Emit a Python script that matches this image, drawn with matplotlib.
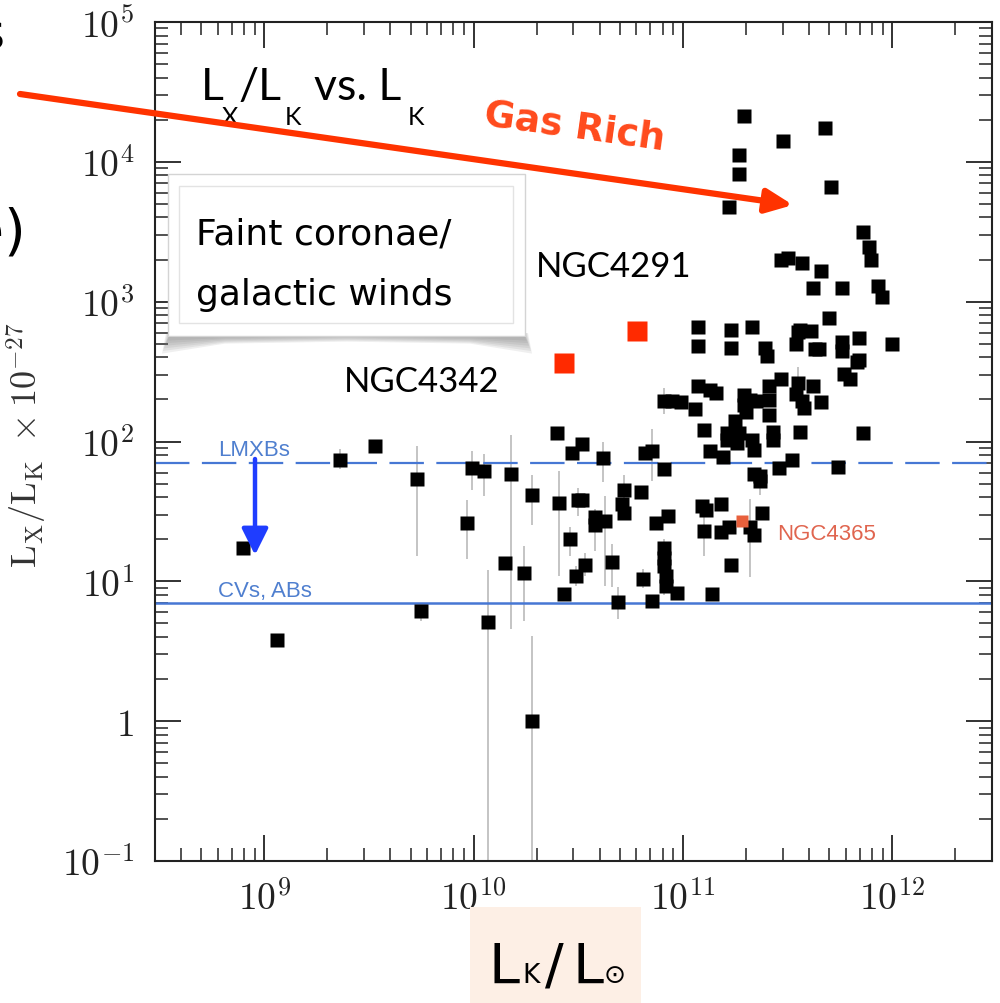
import numpy as np
import matplotlib
matplotlib.use("Agg")
import matplotlib.pyplot as plt
from matplotlib.patches import Rectangle, Polygon, FancyArrowPatch, ArrowStyle
from matplotlib.ticker import FuncFormatter, LogLocator, NullFormatter

plt.rcParams['mathtext.fontset'] = 'cm'

# galaxies: log10(L_K / L_sun) and log10(L_X / L_K x 1e-27)
log_lk = [8.90, 9.06, 9.36, 9.53, 9.73, 9.75, 9.97, 9.99, 10.05, 10.07,
          10.15, 10.18, 10.24, 10.28, 10.28, 10.40, 10.41, 10.43, 10.46, 10.47,
          10.49, 10.50, 10.52, 10.52, 10.53, 10.58, 10.58, 10.62, 10.63, 10.66,
          10.69, 10.71, 10.72, 10.72, 10.80, 10.81, 10.82, 10.85, 10.85, 10.87,
          10.91, 10.91, 10.91, 10.91, 10.92, 10.92, 10.93, 10.97, 10.91, 10.95,
          10.99, 11.06, 11.07, 11.07, 11.07, 11.13, 11.16, 11.10, 11.13, 11.19,
          11.09, 11.11, 11.18, 11.10, 11.14, 11.18, 11.22, 11.32, 11.34, 11.23,
          11.38, 11.23, 11.23, 11.33, 11.39, 11.40, 11.55, 11.54, 11.61, 11.63,
          11.65, 11.70, 11.76, 11.76, 11.84, 11.84, 11.83, 12.00, 11.77, 11.80,
          11.29, 11.32, 11.35, 11.29, 11.30, 11.25, 11.21, 11.21, 11.27, 11.26,
          11.33, 11.34, 11.41, 11.41, 11.41, 11.47, 11.43, 11.43, 11.56, 11.55,
          11.54, 11.57, 11.58, 11.62, 11.66, 11.86, 11.46, 11.52, 11.74, 11.34,
          11.37, 11.37, 11.29, 11.27, 11.27, 11.48, 11.68, 11.71, 11.22, 11.86,
          11.89, 11.90, 11.47, 11.50, 11.57, 11.66, 11.62, 11.76, 11.93, 11.95,
          11.56]
log_ratio = [1.24, 0.58, 1.87, 1.97, 1.73, 0.79, 1.42, 1.81, 1.79, 0.71,
             1.13, 1.77, 1.06, 0.00, 1.62, 2.06, 1.56, 0.91, 1.30, 1.92,
             1.04, 1.58, 1.58, 1.98, 1.12, 1.46, 1.40, 1.88, 1.43, 1.14,
             0.85, 1.55, 1.65, 1.49, 1.64, 1.02, 1.92, 1.93, 0.86, 1.42,
             1.80, 1.24, 1.17, 1.11, 1.04, 0.97, 1.47, 0.92, 2.29, 2.29,
             2.28, 2.23, 2.82, 2.68, 2.40, 2.37, 2.35, 2.08, 1.93, 1.89,
             1.54, 1.51, 1.55, 1.36, 0.91, 1.35, 1.39, 1.39, 1.33, 1.12,
             1.49, 2.80, 2.67, 2.82, 2.67, 2.61, 2.78, 2.70, 2.79, 2.66,
             2.66, 2.88, 2.71, 2.65, 2.74, 2.58, 2.57, 2.70, 2.48, 2.45,
             2.33, 2.30, 2.29, 2.26, 2.21, 2.15, 2.06, 2.01, 2.06, 1.99,
             2.01, 1.94, 2.40, 2.30, 2.19, 2.45, 2.07, 2.01, 2.07, 2.42,
             2.34, 2.29, 2.24, 2.40, 2.28, 2.06, 1.81, 1.87, 1.82, 1.77,
             1.75, 1.72, 4.33, 4.05, 3.91, 4.15, 4.24, 3.82, 3.68, 3.50,
             3.39, 3.30, 3.30, 3.31, 3.28, 3.22, 3.10, 3.10, 3.11, 3.03,
             2.80]

# error bars (log10): position, lower end, upper end
err_lk = [8.90, 9.36, 9.73, 9.75, 9.97, 9.99, 10.05, 10.07, 10.18, 10.24,
          10.28, 10.28, 10.41, 10.46, 10.49, 10.50, 10.53, 10.58, 10.62, 10.63,
          10.66, 10.69, 10.72, 10.81, 10.85, 10.91, 10.91, 11.10, 11.32, 11.55,
          11.37]
err_lo = [1.20, 1.80, 1.18, 0.72, 1.16, 1.65, 1.61, -2.0, 0.66, 0.72,
          -2.0, 1.40, 1.04, 1.18, 0.97, 1.47, 1.04, 1.22, 1.71, 0.97,
          0.96, 0.73, 1.55, 0.95, 1.72, 2.20, 0.90, 1.18, 1.03, 2.30,
          1.62]
err_hi = [1.27, 1.95, 1.97, 0.83, 1.58, 1.93, 1.91, 1.08, 2.05, 1.25,
          0.61, 1.76, 1.79, 1.39, 1.11, 1.67, 1.20, 1.52, 2.00, 1.61,
          1.27, 0.96, 1.76, 1.09, 2.09, 2.38, 1.30, 1.47, 1.59, 2.53,
          1.75]

# highlighted galaxies
red_names = ['NGC4342', 'NGC4291']
red_lk = [10.43, 10.78]
red_ratio = [2.56, 2.79]
n4365_lk = 11.28
n4365_ratio = 1.43

lmxb_level = 70
cv_level = 7

fig = plt.figure(figsize=(10, 10.04), dpi=100)
fig.patch.set_facecolor('white')
ax = fig.add_axes([0.155, 0.1414, 0.837, 0.8357])


def fx(x):
    return x / 1000.0


def fy(y):
    return 1 - y / 1004.0


ax.vlines(10 ** np.array(err_lk), 10 ** np.array(err_lo), 10 ** np.array(err_hi),
          color='#b4b4b4', lw=1.1, zorder=1)
ax.plot(10 ** np.array(log_lk), 10 ** np.array(log_ratio), 's', color='black',
        ms=9.5, mec='none', zorder=3)
ax.plot(10 ** np.array(red_lk), 10 ** np.array(red_ratio), 's', color='#ff2a00',
        ms=15, mec='none', zorder=4)
ax.plot(10 ** n4365_lk, 10 ** n4365_ratio, 's', color='#e8603c', ms=8,
        mec='none', zorder=4)

line_col = '#4677d4'
dash = ax.axhline(lmxb_level, color=line_col, lw=1.6, zorder=2)
dash.set_dashes((15.5, 5.6))
ax.axhline(cv_level, color=line_col, lw=1.8, zorder=2)

ax.set_xscale('log')
ax.set_yscale('log')
ax.set_xlim(3e8, 3e12)
ax.set_ylim(0.1, 1e5)


def fmt(v, pos):
    e = int(round(np.log10(v)))
    return '$1$' if e == 0 else r'$10^{%d}$' % e


for a in (ax.xaxis, ax.yaxis):
    a.set_major_locator(LogLocator(base=10, numticks=20))
    a.set_minor_locator(LogLocator(base=10, subs=np.arange(2, 10), numticks=20))
    a.set_major_formatter(FuncFormatter(fmt))
    a.set_minor_formatter(NullFormatter())

ax.tick_params(which='both', direction='in', top=True, right=True,
               colors='#222222', labelsize=27)
ax.tick_params(which='major', length=18.5, width=1.3)
ax.tick_params(which='minor', length=9.5, width=1.1)
ax.tick_params(axis='y', pad=15)
ax.tick_params(axis='x', pad=14)
for s in ax.spines.values():
    s.set_linewidth(1.5)
    s.set_color('#222222')

ax.set_ylabel(r'$\mathrm{L_X/L_K}\ \times 10^{-27}$', fontsize=26, color='#333333')
ax.yaxis.set_label_coords(-0.127, 0.497)

# labels inside the plot
ax.text(6.0e8, 80, 'LMXBs', color='#4f7fcf', fontsize=16,
        family='Liberation Sans', va='baseline')
ax.text(6.0e8, 7.9, 'CVs, ABs', color='#4f7fcf', fontsize=16,
        family='Liberation Sans', va='baseline')
ax.text(2.83e11, 20, 'NGC4365', color='#e0654f', fontsize=16,
        family='Liberation Sans', va='baseline')
ax.text(2.4e9, 231, red_names[0], fontsize=25, family='Lato', va='baseline')
ax.text(1.98e10, 1531, red_names[1], fontsize=25, family='Lato', va='baseline')

# title pieces  L_X/L_K vs. L_K
big, small = 32, 18
for s, x, y, size in [('L', 201, 100, big), ('X', 222, 125, small),
                      ('/L', 239, 100, big), ('K', 285, 125, small),
                      ('vs. L', 314, 100, big), ('K', 408, 125, small)]:
    fig.text(fx(x), fy(y), s, fontsize=size, family='Lato', va='baseline')

# "Faint coronae / galactic winds" box with a soft curled shadow
for i in range(7):
    edge = 5 + 2.6 * i
    mid = 2 + 1.1 * i
    fig.add_artist(Polygon([(fx(172 - i), fy(334)), (fx(522 + i), fy(334)),
                            (fx(526 + i), fy(334 + edge)), (fx(470), fy(334 + mid + 2)),
                            (fx(347), fy(334 + mid)), (fx(225), fy(334 + mid + 2)),
                            (fx(168 - i), fy(334 + edge))], closed=True,
                           transform=fig.transFigure, fc='#6e6e6e', ec='none',
                           alpha=0.11, zorder=3))
fig.add_artist(Rectangle((fx(168), fy(337)), (525 - 168) / 1000.0, (337 - 175) / 1004.0,
                         transform=fig.transFigure, fc='white', ec='#d4d4d4',
                         lw=1.0, zorder=4))
fig.add_artist(Rectangle((fx(179), fy(324)), (513 - 179) / 1000.0, (324 - 187) / 1004.0,
                         transform=fig.transFigure, fc='none', ec='#e3e3e3',
                         lw=1.0, zorder=5))
fig.text(fx(196), fy(245), 'Faint coronae/', fontsize=26, family='DejaVu Sans',
         va='baseline', zorder=6)
fig.text(fx(196), fy(305), 'galactic winds', fontsize=26, family='DejaVu Sans',
         va='baseline', zorder=6)

# Gas Rich arrow
fig.add_artist(FancyArrowPatch((fx(20), fy(95)), (fx(793), fy(206)),
                               transform=fig.transFigure,
                               arrowstyle=ArrowStyle('-|>', head_length=0.8, head_width=0.36),
                               mutation_scale=20, lw=4.5, color='#ff3300',
                               shrinkA=0, shrinkB=0, zorder=6))
fig.text(fx(575), fy(127), 'Gas Rich', fontsize=27, fontweight='bold', color='#ff4a1c',
         family='DejaVu Sans', rotation=-8, ha='center', va='center',
         rotation_mode='anchor')

# blue arrow LMXBs -> CVs
fig.add_artist(FancyArrowPatch((fx(255), fy(460)), (fx(255), fy(556)),
                               transform=fig.transFigure,
                               arrowstyle=ArrowStyle('-|>', head_length=0.8, head_width=0.4),
                               mutation_scale=20, lw=3.2, color='#1f3dff',
                               shrinkA=0, shrinkB=0, zorder=6))

# x label on peach box
fig.add_artist(Rectangle((fx(470), fy(1004)), (641 - 470) / 1000.0, (1004 - 908) / 1004.0,
                         transform=fig.transFigure, fc='#fdefe5', ec='none', zorder=1))
for s, x, size in [('L', 489, 40), ('K', 522, 19), ('/', 545, 40),
                   ('L', 573, 40), ('\u2299', 604, 19)]:
    fig.text(fx(x), fy(983), s, fontsize=size, family='DejaVu Sans', va='baseline',
             zorder=2)

# slide text cut off at the left edge
fig.text(fx(4), fy(50), 's', fontsize=36, family='DejaVu Sans', ha='right', va='baseline')
fig.text(fx(26), fy(248), 'e)', fontsize=40, family='DejaVu Sans', ha='right',
         va='baseline')

fig.savefig('out.png', dpi=100, facecolor='white')
